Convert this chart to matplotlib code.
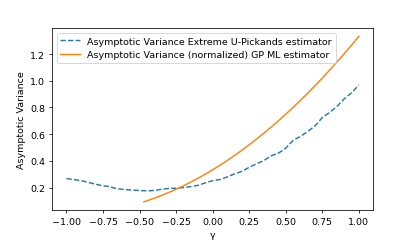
import numpy as np
import matplotlib
matplotlib.use("Agg")
import matplotlib.pyplot as plt

# extreme U-Pickands estimator
gamma_pick = [-1.00, -0.95, -0.90, -0.85, -0.80, -0.75, -0.72, -0.70, -0.65, -0.60,
              -0.55, -0.50, -0.45, -0.40, -0.35, -0.30, -0.25, -0.20, -0.15, -0.10,
              -0.05, 0.00, 0.05, 0.10, 0.15, 0.20, 0.25, 0.30, 0.35, 0.40,
              0.45, 0.50, 0.55, 0.60, 0.65, 0.70, 0.75, 0.80, 0.85, 0.90,
              0.95, 1.00]
var_pick = [0.267, 0.26, 0.252, 0.238, 0.225, 0.212, 0.21, 0.205, 0.19, 0.185,
            0.181, 0.178, 0.175, 0.178, 0.187, 0.193, 0.195, 0.200, 0.207, 0.217,
            0.235, 0.252, 0.260, 0.280, 0.303, 0.322, 0.352, 0.378, 0.402, 0.438,
            0.458, 0.495, 0.553, 0.583, 0.620, 0.662, 0.725, 0.763, 0.808, 0.865,
            0.910, 0.969]

# (normalized) GP ML estimator
gamma_ml = [-0.47, -0.45, -0.40, -0.35, -0.30, -0.25, -0.20, -0.15, -0.10, -0.05,
            0.00, 0.05, 0.10, 0.15, 0.20, 0.25, 0.30, 0.35, 0.40, 0.45,
            0.50, 0.55, 0.60, 0.65, 0.70, 0.75, 0.80, 0.85, 0.90, 0.95, 1.00]
var_ml = [0.0936, 0.1008, 0.1200, 0.1408, 0.1633, 0.1875, 0.2133, 0.2408, 0.2700, 0.3008,
          0.3333, 0.3675, 0.4033, 0.4408, 0.4800, 0.5208, 0.5633, 0.6075, 0.6533, 0.7008,
          0.7500, 0.8008, 0.8533, 0.9075, 0.9633, 1.0208, 1.0800, 1.1408, 1.2033, 1.2675, 1.3333]

w = 6.05
fig = plt.figure(figsize=(w, w * 242 / 415), dpi=415 / w)
plt.subplots_adjust(left=0.125, right=0.9, bottom=0.128, top=0.88)
plt.plot(gamma_pick, var_pick, "--", label="Asymptotic Variance Extreme U-Pickands estimator")
plt.plot(gamma_ml, var_ml, label="Asymptotic Variance (normalized) GP ML estimator")
plt.xlabel("γ")
plt.ylabel("Asymptotic Variance")
plt.legend(loc="upper left")
plt.savefig("out.png", dpi=415 / w)
